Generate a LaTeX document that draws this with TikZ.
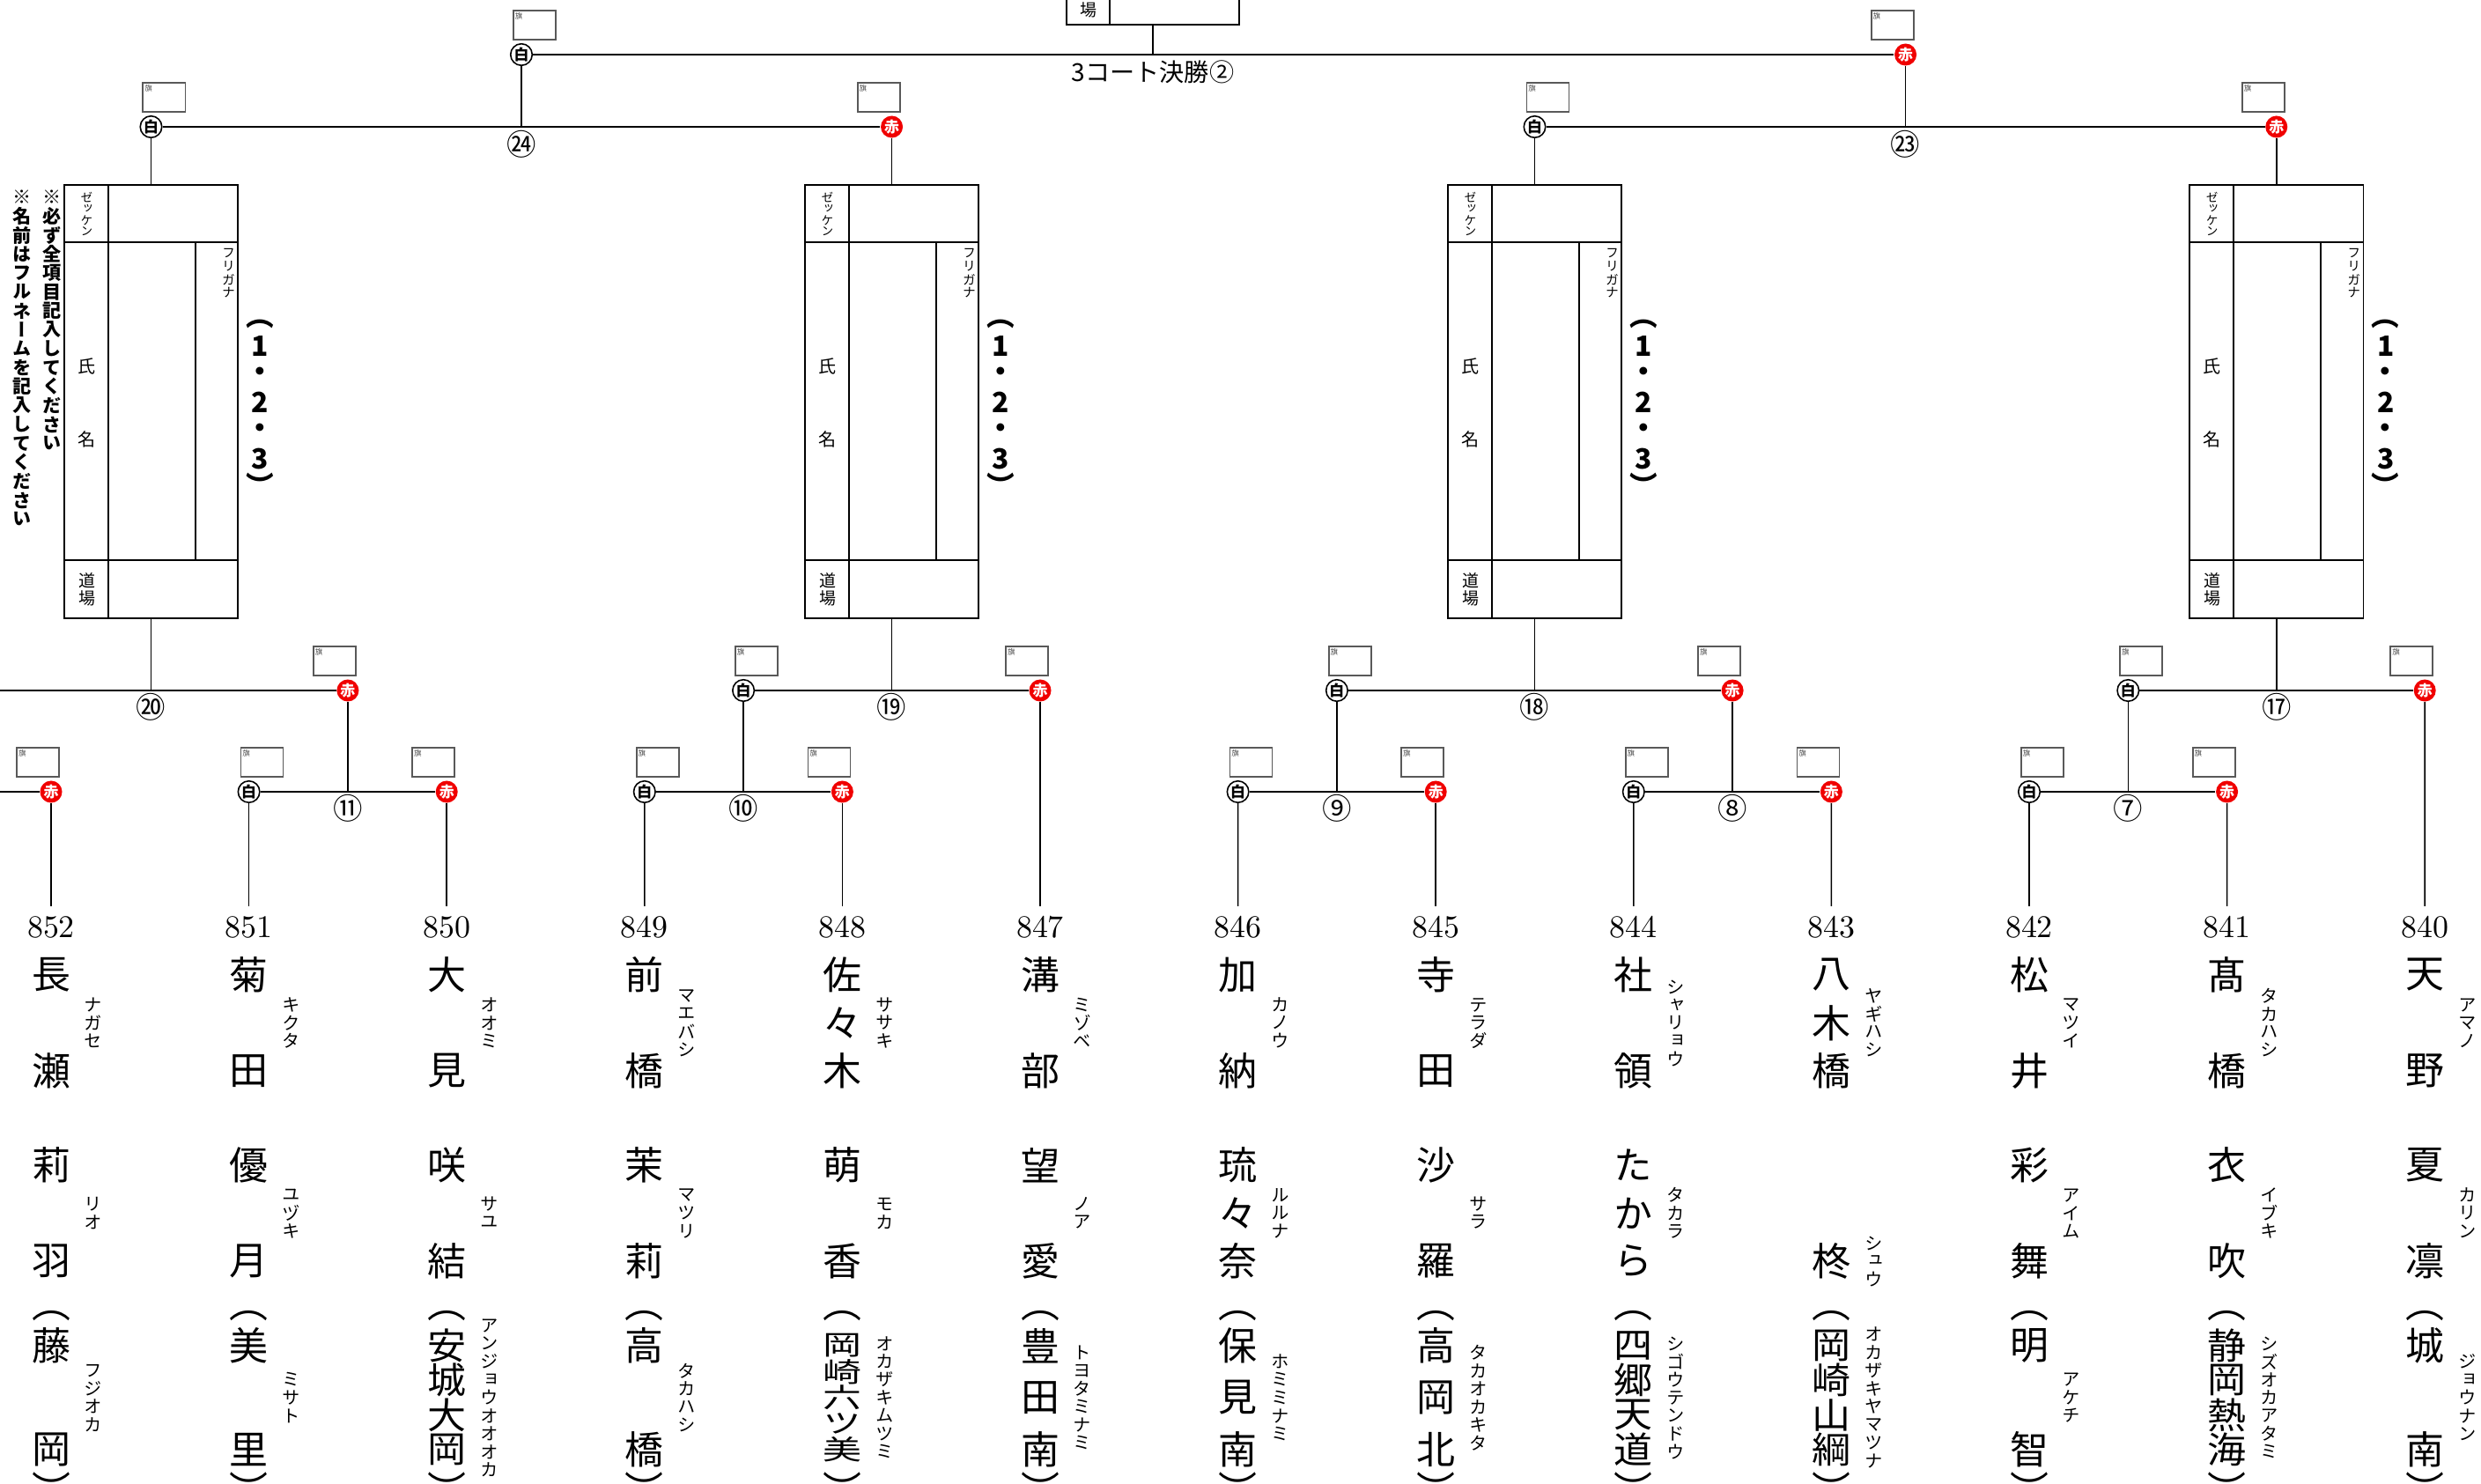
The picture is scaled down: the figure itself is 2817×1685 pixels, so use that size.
\documentclass[tikz,border=0pt]{standalone}
\usepackage{fontspec}
\usepackage{tikz}
\usetikzlibrary{positioning}
\newfontfamily\jp{Noto Sans CJK JP}[RawFeature=+vert]
\newfontfamily\jph{Noto Sans CJK JP}
\definecolor{akairo}{RGB}{240,0,0}
\newcommand\fs[1]{\fontsize{#1}{#1}\selectfont}

\makeatletter
\newcount\tate@n
\newcount\tate@i
\newcommand\tatecount[1]{\tate@n=0 \@tfor\tate@c:=#1\do{\advance\tate@n by 1 }}
% one column of upright characters: [style]{x}{y middle}{pitch}{yscale}{chars}
\newcommand\tatecol[6][]{%
  \tatecount{#6}%
  \tate@i=0
  \@tfor\tate@c:=#6\do{%
    \pgfmathsetmacro\tate@y{#3+(\the\tate@i-(\the\tate@n-1)/2)*#4}%
    \node[#1] at (#2,\tate@y) {\scalebox{1}[#5]{\tate@c}};%
    \advance\tate@i by 1
  }%
}
% a name field spread between two heights, with its reading beside it
\newcommand\tatefield[5]{%
  \tatecount{#4}%
  \ifnum\tate@n=1
    \def\tf@mid{#3}\def\tf@p{0}\def\tf@s{1}%
  \else
    \pgfmathsetmacro\tf@mid{(#2+#3)/2}%
    \pgfmathsetmacro\tf@p{(#3-#2)/(\the\tate@n-1)}%
    \pgfmathsetmacro\tf@s{min(1,\tf@p/42)}%
  \fi
  \tatecol[shimei]{#1}{\tf@mid}{\tf@p}{\tf@s}{#4}%
  \tatecol[furi]{#1+48}{\tf@mid}{20.5}{1}{#5}%
}
\makeatother

% player: {column}{number}{surname}{reading}{given name}{reading}{dojo}{reading}
\newcommand\senshu[8]{%
  \pgfmathsetmacro\sx{58+224.6*#1}%
  \node[senshuno] (n#2) at (\sx,1053) {#2};
  \tatefield{\sx}{1107}{1216}{#3}{#4}
  \tatefield{\sx}{1323}{1432}{#5}{#6}
  \tatefield{\sx}{1528}{1646}{#7}{#8}
  \node[shimei] at (\sx,1494) {︵};
  \node[shimei] at (\sx,1690) {︶};
}
% entry card
\newcommand\fuda[2]{%
  \node[fudabox] (#1) at (#2,456) {};
  \draw[waku] (#2-98.5,275) -- (#2+98.5,275) (#2-98.5,636) -- (#2+98.5,636)
    (#2-48.5,210) -- (#2-48.5,702) (#2+50.5,275) -- (#2+50.5,636);
  \tatecol[zekken]{#2-73}{243.5}{13}{1}{ゼッケン}
  \node[shimeilbl] at (#2-73,416) {氏};
  \node[shimeilbl] at (#2-73,499) {名};
  \tatecol[dojolbl]{#2-73}{669}{20}{1}{道場}
  \tatecol[furilbl]{#2+88}{310}{15}{1}{フリガナ}
  \tatecol[kakko]{#2+124}{457}{32}{1}{1・2・3}
  \node[kakko] at (#2+124,368) {︵};
  \node[kakko] at (#2+124,550) {︶};
}
\newcommand\shiro[3]{%
  \node[shiromaru] (#1) at (#2,#3) {白};
  \node[hata, anchor=south west, xshift=-1mm, yshift=1.6mm] at (#1) {};
}
\newcommand\aka[3]{%
  \node[akamaru] (#1) at (#2,#3) {赤};
  \node[hata, anchor=south east, xshift=1mm, yshift=1.6mm] at (#1) {};
}

\begin{document}
\begin{tikzpicture}[x=0.01cm, y=-0.01cm,
  sen/.style={line width=0.6pt},
  tatesen/.style={line width=0.45pt},
  waku/.style={line width=0.45pt},
  shiromaru/.style={circle, draw=black, line width=0.45pt, fill=white, inner sep=0pt,
    minimum size=0.245cm, font=\jph\bfseries\fs{4.8pt}},
  akamaru/.style={circle, fill=akairo, text=white, inner sep=0pt,
    minimum size=0.25cm, font=\jph\bfseries\fs{4.8pt}},
  hata/.style={draw=black!65, line width=0.5pt, inner sep=0pt, minimum width=0.48cm,
    minimum height=0.33cm, label={[anchor=north west, inner sep=0.6pt,
    font=\jph\fs{2.4pt}, text=black!70]north west:旗}},
  bango/.style={font=\jph\fs{9.5pt}, inner sep=0pt},
  kesshou/.style={font=\jph\fs{8pt}, inner sep=0pt},
  senshuno/.style={font=\rmfamily\fs{10.2pt}, inner sep=0.11cm},
  shimei/.style={font=\jp\fs{12.5pt}, inner sep=0pt},
  furi/.style={font=\jp\fs{5.8pt}, inner sep=0pt},
  fudabox/.style={draw, line width=0.45pt, minimum width=1.97cm, minimum height=4.92cm, inner sep=0pt},
  zekken/.style={font=\jp\fs{3.9pt}, inner sep=0pt},
  shimeilbl/.style={font=\jp\fs{5.7pt}, inner sep=0pt},
  dojolbl/.style={font=\jp\fs{5.4pt}, inner sep=0pt},
  furilbl/.style={font=\jp\fs{4.2pt}, inner sep=0pt},
  kakko/.style={font=\jp\bfseries\fs{9pt}, inner sep=0pt},
  chui/.style={font=\jp\bfseries\fs{6pt}, inner sep=0pt}
]
\path[fill=white] (0,0) rectangle (2817,1685);
\useasboundingbox (0,0) rectangle (2817,1685);

% players
\senshu{0}{852}{長瀬}{ナガセ}{莉羽}{リオ}{藤岡}{フジオカ}
\senshu{1}{851}{菊田}{キクタ}{優月}{ユヅキ}{美里}{ミサト}
\senshu{2}{850}{大見}{オオミ}{咲結}{サユ}{安城大岡}{アンジョウオオオカ}
\senshu{3}{849}{前橋}{マエバシ}{茉莉}{マツリ}{高橋}{タカハシ}
\senshu{4}{848}{佐々木}{ササキ}{萌香}{モカ}{岡崎六ツ美}{オカザキムツミ}
\senshu{5}{847}{溝部}{ミゾベ}{望愛}{ノア}{豊田南}{トヨタミナミ}
\senshu{6}{846}{加納}{カノウ}{琉々奈}{ルルナ}{保見南}{ホミミナミ}
\senshu{7}{845}{寺田}{テラダ}{沙羅}{サラ}{高岡北}{タカオカキタ}
\senshu{8}{844}{社領}{シャリョウ}{たから}{タカラ}{四郷天道}{シゴウテンドウ}
\senshu{9}{843}{八木橋}{ヤギハシ}{柊}{シュウ}{岡崎山綱}{オカザキヤマツナ}
\senshu{10}{842}{松井}{マツイ}{彩舞}{アイム}{明智}{アケチ}
\senshu{11}{841}{髙橋}{タカハシ}{衣吹}{イブキ}{静岡熱海}{シズオカアタミ}
\senshu{12}{840}{天野}{アマノ}{夏凛}{カリン}{城南}{ジョウナン}

% final
\node[draw, waku, minimum width=1.96cm, minimum height=0.6cm, anchor=south] (fudaT) at (1309,29) {};
\draw[waku] (1260,29) -- (1260,-31);
\node[dojolbl] at (1235.5,11) {場};
\shiro{w2}{592}{62}
\aka{r2}{2163.6}{62}
\coordinate (mT) at (1309,62);
\draw[sen] (w2) -- (r2);
\draw[tatesen] (fudaT) -- (mT);
\node[kesshou, below=0.06cm of mT] {3コート決勝②};

% semifinals
\shiro{w24}{171.5}{144}
\aka{r24}{1012.55}{144}
\coordinate (m24) at (592,144);
\draw[sen] (w24) -- (r24);
\draw[tatesen] (m24) -- (w2);
\node[bango, below=0.04cm of m24] {㉔};
\shiro{w23}{1742.5}{144}
\aka{r23}{2584.75}{144}
\coordinate (m23) at (2163.6,144);
\draw[sen] (w23) -- (r23);
\draw[tatesen] (m23) -- (r2);
\node[bango, below=0.04cm of m23] {㉓};

% entry cards
\fuda{fuda1}{171.5}
\fuda{fuda2}{1012.55}
\fuda{fuda3}{1742.5}
\fuda{fuda4}{2584.75}
\draw[tatesen] (fuda1) -- (w24);
\draw[tatesen] (fuda2) -- (r24);
\draw[tatesen] (fuda3) -- (w23);
\draw[tatesen] (fuda4) -- (r23);
\tatecol[chui]{59}{363.75}{21.5}{1}{※必ず全項目記入してください}
\tatecol[chui]{25}{406.75}{21.5}{1}{※名前はフルネームを記入してください}

% second round
\coordinate (l20) at (0,784);
\aka{r20}{394.9}{784}
\coordinate (m20) at (171.5,784);
\draw[sen] (l20) -- (r20);
\draw[tatesen] (fuda1) -- (m20);
\node[bango, below=0.03cm of m20] {⑳};
\shiro{w19}{844.1}{784}
\aka{r19}{1181}{784}
\coordinate (m19) at (1012.55,784);
\draw[sen] (w19) -- (r19);
\draw[tatesen] (fuda2) -- (m19);
\node[bango, below=0.03cm of m19] {⑲};
\shiro{w18}{1517.9}{784}
\aka{r18}{1967.1}{784}
\coordinate (m18) at (1742.5,784);
\draw[sen] (w18) -- (r18);
\draw[tatesen] (fuda3) -- (m18);
\node[bango, below=0.03cm of m18] {⑱};
\shiro{w17}{2416.3}{784}
\aka{r17}{2753.2}{784}
\coordinate (m17) at (2584.75,784);
\draw[sen] (w17) -- (r17);
\draw[tatesen] (fuda4) -- (m17);
\node[bango, below=0.03cm of m17] {⑰};

% first round
\coordinate (l12) at (0,899);
\aka{r12}{58}{899}
\draw[sen] (l12) -- (r12);
\shiro{w11}{282.6}{899}
\aka{r11}{507.2}{899}
\coordinate (m11) at (394.9,899);
\draw[sen] (w11) -- (r11);
\node[bango, below=0.03cm of m11] {⑪};
\shiro{w10}{731.8}{899}
\aka{r10}{956.4}{899}
\coordinate (m10) at (844.1,899);
\draw[sen] (w10) -- (r10);
\node[bango, below=0.03cm of m10] {⑩};
\shiro{w9}{1405.6}{899}
\aka{r9}{1630.2}{899}
\coordinate (m9) at (1517.9,899);
\draw[sen] (w9) -- (r9);
\node[bango, below=0.03cm of m9] {⑨};
\shiro{w8}{1854.8}{899}
\aka{r8}{2079.4}{899}
\coordinate (m8) at (1967.1,899);
\draw[sen] (w8) -- (r8);
\node[bango, below=0.03cm of m8] {⑧};
\shiro{w7}{2304}{899}
\aka{r7}{2528.6}{899}
\coordinate (m7) at (2416.3,899);
\draw[sen] (w7) -- (r7);
\node[bango, below=0.03cm of m7] {⑦};

\draw[tatesen] (m11) -- (r20);
\draw[tatesen] (m10) -- (w19);
\draw[tatesen] (m9) -- (w18);
\draw[tatesen] (m8) -- (r18);
\draw[tatesen] (m7) -- (w17);

\draw[tatesen] (n852) -- (r12);
\draw[tatesen] (n851) -- (w11);
\draw[tatesen] (n850) -- (r11);
\draw[tatesen] (n849) -- (w10);
\draw[tatesen] (n848) -- (r10);
\draw[tatesen] (n847) -- (r19);
\draw[tatesen] (n846) -- (w9);
\draw[tatesen] (n845) -- (r9);
\draw[tatesen] (n844) -- (w8);
\draw[tatesen] (n843) -- (r8);
\draw[tatesen] (n842) -- (w7);
\draw[tatesen] (n841) -- (r7);
\draw[tatesen] (n840) -- (r17);
\end{tikzpicture}
\end{document}
